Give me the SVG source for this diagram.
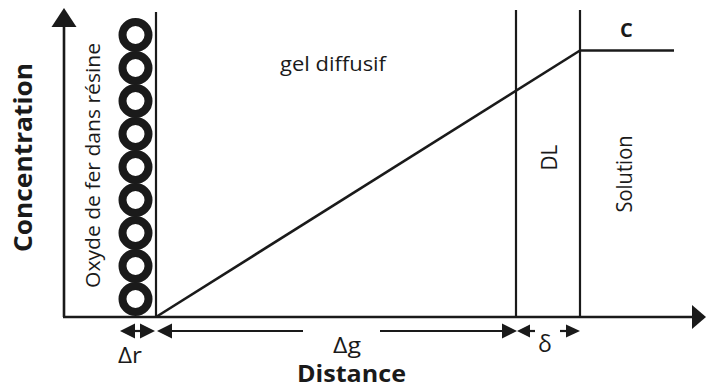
<svg xmlns="http://www.w3.org/2000/svg" width="707" height="388" viewBox="0 0 707 388">
<style>
  .ln { stroke:#1a1a1a; stroke-width:2.2; fill:none; }
  .ax { stroke:#1a1a1a; stroke-width:2.6; fill:none; }
  .ah { fill:#1a1a1a; stroke:none; }
  .bead { fill:none; stroke:#1a1a1a; stroke-width:8; }
  .t { font-family:"Open Sans","Noto Sans","DejaVu Sans",sans-serif; fill:#1a1a1a; }
  .b { font-weight:bold; }
</style>
<rect width="707" height="388" fill="#ffffff"/>

<g id="axes">
  <line class="ax" x1="64" y1="24" x2="64" y2="317"/>
  <polygon class="ah" points="64,8 76.5,27 51.5,27"/>
  <line class="ax" x1="63" y1="317" x2="694" y2="317"/>
  <polygon class="ah" points="706,317 692,305 692,329"/>
  <text class="t b" font-size="25" transform="translate(32,157.5) rotate(-90)" text-anchor="middle" textLength="189" lengthAdjust="spacingAndGlyphs">Concentration</text>
  <text class="t b" font-size="23" x="297" y="382" textLength="109" lengthAdjust="spacingAndGlyphs">Distance</text>
</g>

<g id="resine">
  <circle class="bead" cx="135.5" cy="35" r="13"/>
  <circle class="bead" cx="135.5" cy="68" r="13"/>
  <circle class="bead" cx="135.5" cy="101" r="13"/>
  <circle class="bead" cx="135.5" cy="134" r="13"/>
  <circle class="bead" cx="135.5" cy="167" r="13"/>
  <circle class="bead" cx="135.5" cy="200" r="13"/>
  <circle class="bead" cx="135.5" cy="233" r="13"/>
  <circle class="bead" cx="135.5" cy="266" r="13"/>
  <circle class="bead" cx="135.5" cy="299" r="13"/>
  <text class="t" font-size="20" transform="translate(100,165.5) rotate(-90)" text-anchor="middle" textLength="245" lengthAdjust="spacingAndGlyphs">Oxyde de fer dans résine</text>
</g>

<g id="gel">
  <line class="ln" x1="156" y1="12" x2="156" y2="317"/>
  <text class="t" font-size="20" x="280" y="71" textLength="106" lengthAdjust="spacingAndGlyphs">gel diffusif</text>
</g>

<g id="dl">
  <line class="ln" x1="516" y1="10" x2="516" y2="317"/>
  <text class="t" font-size="21" transform="translate(557,157.5) rotate(-90)" text-anchor="middle" textLength="26" lengthAdjust="spacingAndGlyphs">DL</text>
</g>

<g id="solution">
  <line class="ln" x1="580" y1="10" x2="580" y2="317"/>
  <line class="ax" x1="580" y1="50.5" x2="674" y2="50.5"/>
  <text class="t" font-size="21" transform="translate(632,174) rotate(-90)" text-anchor="middle" textLength="77" lengthAdjust="spacingAndGlyphs">Solution</text>
  <text class="t b" font-size="20" x="620" y="37">C</text>
</g>

<g id="connectors">
  <line class="ax" x1="156" y1="317" x2="580" y2="50.5"/>
  <!-- Δr -->
  <line class="ln" x1="125" y1="331" x2="150" y2="331"/>
  <polygon class="ah" points="120,331 135,323.5 135,338.5"/>
  <polygon class="ah" points="155,331 140,323.5 140,338.5"/>
  <!-- Δg -->
  <line class="ln" x1="165" y1="331" x2="303" y2="331"/>
  <line class="ln" x1="380" y1="331" x2="510" y2="331"/>
  <polygon class="ah" points="157,331 172,323.5 172,338.5"/>
  <polygon class="ah" points="517,331 502,323.5 502,338.5"/>
  <!-- δ -->
  <line class="ln" x1="522" y1="331" x2="535" y2="331"/>
  <line class="ln" x1="560" y1="331" x2="572" y2="331"/>
  <polygon class="ah" points="517,331 530,324.5 530,337.5"/>
  <polygon class="ah" points="580,331 566,324.5 566,337.5"/>
</g>

<g id="dimension-labels">
  <text class="t" font-size="22" x="118" y="363" textLength="24" lengthAdjust="spacingAndGlyphs">Δr</text>
  <text class="t" font-size="21" x="333" y="353" textLength="28" lengthAdjust="spacingAndGlyphs">Δg</text>
  <text class="t" font-size="23" x="538" y="352">δ</text>
</g>
</svg>
